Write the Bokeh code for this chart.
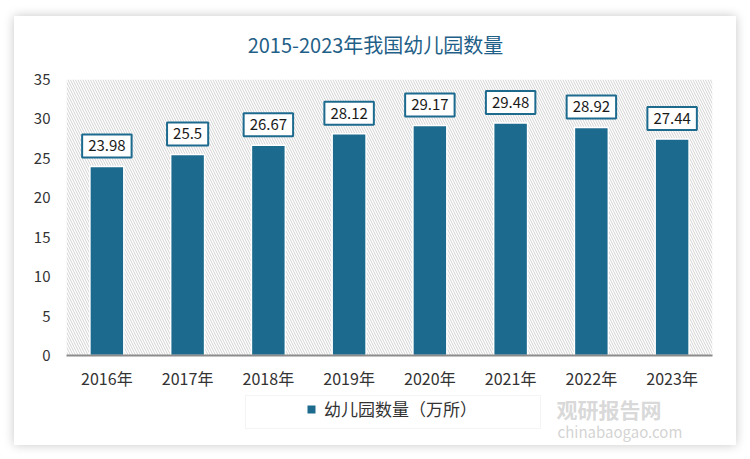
from bokeh.plotting import figure
from bokeh.layouts import column
from bokeh.models import (ColumnDataSource, BoxAnnotation, Legend, LegendItem,
                          FixedTicker, Label, FactorRange)
from bokeh.embed import file_html
from bokeh.resources import INLINE

years = ["2016年", "2017年", "2018年", "2019年", "2020年", "2021年", "2022年", "2023年"]
counts = [23.98, 25.5, 26.67, 28.12, 29.17, 29.48, 28.92, 27.44]
count_labels = ["23.98", "25.5", "26.67", "28.12", "29.17", "29.48", "28.92", "27.44"]
y_ticks = [0, 5, 10, 15, 20, 25, 30, 35]
series_name = "幼儿园数量（万所）"
title_text = "2015-2023年我国幼儿园数量"
watermark_cn = "观研报告网"
watermark_en = "chinabaogao.com"

BAR = "#1c6a8e"
FONT = "Noto Sans CJK SC"


def strip(height):
    """A blank figure whose frame is aligned with the chart frame (page pixels)."""
    f = figure(width=722, height=height, x_range=(66, 712), y_range=(0, height),
               output_backend="svg", toolbar_location=None,
               x_axis_type=None, y_axis_type=None, min_border=0)
    f.outline_line_color = None
    f.border_fill_color = "white"
    f.background_fill_color = "white"
    f.xgrid.visible = False
    f.ygrid.visible = False
    return f


# ---------------- title strip ----------------
p0 = strip(50)
p0.add_layout(Label(x=375, y=22, text=title_text, text_align="center",
                    text_baseline="middle", text_font=FONT, text_font_size="20px",
                    text_color="#1f6088"))

# ---------------- main chart ----------------
src = ColumnDataSource(dict(x=years, y=counts, lbl=count_labels))

p = figure(width=722, height=328, x_range=FactorRange(*years, range_padding=0),
           y_range=(0, 35), output_backend="svg", toolbar_location=None,
           min_border_left=52, min_border_right=24, min_border_top=13, min_border_bottom=39)
p.outline_line_color = None
p.background_fill_color = "white"
p.border_fill_color = "white"

hatch = BoxAnnotation(fill_color="white", fill_alpha=1, line_color=None,
                      hatch_pattern="\\", hatch_color="#d2d2d2", hatch_scale=5,
                      hatch_weight=1, level="underlay")
p.add_layout(hatch)

r = p.vbar(x="x", top="y", width=0.42, source=src, fill_color=BAR,
           line_color="white", line_width=1.5)

# categorical factors map to synthetic coordinates i + 0.5
for i, (yv, tv) in enumerate(zip(counts, count_labels)):
    p.add_layout(Label(x=i + 0.5, y=yv, text=tv, text_align="center",
                       text_baseline="bottom", y_offset=9, text_font=FONT,
                       text_font_size="15px", text_color="#1a1a1a",
                       background_fill_color="white", border_line_color=BAR,
                       border_line_width=2, padding=6))

p.xgrid.visible = False
p.ygrid.visible = False

p.yaxis.ticker = FixedTicker(ticks=y_ticks)
p.yaxis.axis_line_color = None
p.yaxis.major_tick_line_color = None
p.yaxis.minor_tick_line_color = None
p.yaxis.major_label_text_font = FONT
p.yaxis.major_label_text_font_size = "15px"
p.yaxis.major_label_text_color = "#333333"
p.yaxis.major_label_standoff = 10

p.xaxis.axis_line_color = "#8c8c8c"
p.xaxis.axis_line_width = 2
p.xaxis.major_tick_line_color = None
p.xaxis.minor_tick_line_color = None
p.xaxis.major_label_text_font = FONT
p.xaxis.major_label_text_font_size = "16px"
p.xaxis.major_label_text_color = "#333333"
p.xaxis.major_label_standoff = 4

# ---------------- legend strip ----------------
p2 = strip(51)

# swatch renderer for the legend (its single point lies outside the visible range)
sw = p2.rect(x=[-100], y=[-100], width=1, height=1, fill_color=BAR, line_color=None)

p2.add_layout(BoxAnnotation(left=245, right=540, bottom=17, top=50,
                            fill_color="white", fill_alpha=1,
                            line_color="#d9d9d9", line_width=1))

legend = Legend(items=[LegendItem(label=series_name, renderers=[sw])],
                location=(240, 24), orientation="horizontal",
                label_text_font=FONT, label_text_font_size="17px",
                label_text_color="#333333", border_line_color=None,
                padding=6, glyph_width=10, glyph_height=10,
                label_standoff=8, background_fill_alpha=0)
p2.add_layout(legend)

p2.add_layout(Label(x=556, y=22, text=watermark_cn, text_font=FONT,
                    text_font_size="21px", text_font_style="bold",
                    text_color="#c8c8c8", text_alpha=0.7))
p2.add_layout(Label(x=557, y=4, text=watermark_en, text_font=FONT,
                    text_font_size="15px", text_color="#c8c8c8", text_alpha=0.8))

layout = column(p0, p, p2, spacing=0, margin=(16, 0, 0, 14),
                styles={"box-shadow": "0 0 10px rgba(0,0,0,0.22)", "background": "white"})

open("out.html", "w").write(file_html(layout, INLINE))
